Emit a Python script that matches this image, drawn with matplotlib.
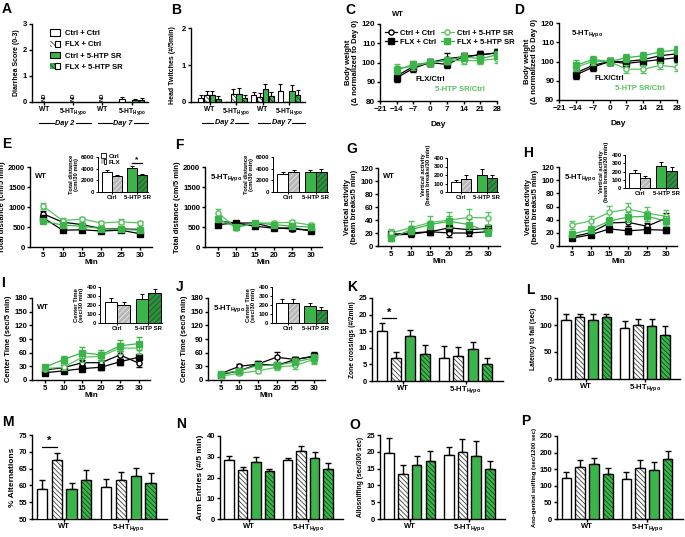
import numpy as np
import matplotlib
matplotlib.use('Agg')
import matplotlib.pyplot as plt
from matplotlib.patches import Patch
from matplotlib.lines import Line2D
from matplotlib.legend_handler import HandlerTuple

plt.rcParams['font.family'] = ['Liberation Sans', 'DejaVu Sans']
plt.rcParams['font.weight'] = 'bold'
plt.rcParams['axes.labelweight'] = 'bold'
plt.rcParams['axes.linewidth'] = 1.0
plt.rcParams['hatch.linewidth'] = 0.6

HYPO = '5-HT$_{\\mathregular{Hypo}}$'
GREEN = '#3bb54a'
LGREEN = '#55c45c'
DGREEN = '#2e8f3e'

# ---- data ----
treatments = ['Ctrl + Ctrl', 'FLX + Ctrl', 'Ctrl + 5-HTP SR', 'FLX + 5-HTP SR']
genotypes = ['WT', HYPO]
days = [-14, -7, 0, 7, 14, 21, 28]
minutes = [5, 10, 15, 20, 25, 30]

# A: diarrhea, only 5-HT Hypo day 7 measurable
diarrhea_hypo_d7 = [0.1, 0.0, 0.07, 0.08]
diarrhea_hypo_d7_err = [0.1, 0.0, 0.05, 0.07]

# B: head twitches, groups WT d2, Hypo d2, WT d7, Hypo d7
twitch = [[0.1, 0.2, 0.18, 0.08], [0.0, 0.22, 0.22, 0.1],
          [0.18, 0.13, 0.35, 0.17], [0.3, 0.0, 0.3, 0.2]]
twitch_err = [[0.08, 0.1, 0.12, 0.08], [0.0, 0.13, 0.17, 0.1],
              [0.1, 0.12, 0.15, 0.1], [0.2, 0.0, 0.17, 0.12]]

# C, D: body weight
weight_wt = [[93, 98, 100, 102, 103, 104, 105], [92, 97, 100, 99, 103, 104, 105],
             [97, 98, 100, 101, 101, 101, 102], [96, 99, 100, 101, 103, 102, 104]]
weight_wt_err = [[2, 2, 2, 3, 2, 2, 2], [2, 2, 2, 2, 2, 2, 2],
                 [2, 2, 2, 2, 2, 2, 2], [2, 2, 2, 2, 2, 2, 2]]
weight_hypo = [[94, 98, 100, 100, 101, 103, 104], [93, 97, 100, 99, 100, 101, 102],
               [97, 100, 100, 96, 96, 98, 97], [98, 101, 100, 102, 103, 105, 106]]
weight_hypo_err = [[2, 2, 2, 2, 2, 2, 2], [2, 2, 2, 2, 2, 2, 2],
                   [2, 2, 2, 2, 2, 2, 2], [3, 2, 2, 2, 2, 2, 2]]

# E, F: total distance
dist_wt = [[830, 620, 560, 460, 450, 440], [730, 420, 430, 400, 420, 330],
           [1020, 660, 700, 600, 630, 600], [640, 550, 520, 460, 440, 420]]
dist_wt_err = [[60, 50, 50, 40, 40, 40], [50, 50, 40, 40, 40, 40],
               [80, 60, 60, 50, 60, 60], [50, 50, 50, 40, 40, 40]]
dist_wt_total = [3400, 2700, 4100, 2900]
dist_wt_total_err = [300, 250, 400, 200]
dist_hypo = [[650, 600, 600, 480, 450, 420], [560, 600, 520, 470, 480, 400],
             [860, 480, 600, 600, 620, 550], [700, 500, 600, 560, 520, 500]]
dist_hypo_err = [[60, 60, 60, 50, 50, 40], [50, 60, 50, 40, 50, 40],
                 [80, 60, 60, 60, 60, 60], [60, 60, 60, 50, 50, 50]]
dist_hypo_total = [3100, 3400, 3500, 3500]
dist_hypo_total_err = [300, 400, 250, 400]

# G, H: vertical activity
vert_wt = [[17, 18, 22, 20, 20, 22], [18, 20, 22, 28, 25, 27],
           [20, 28, 36, 40, 44, 43], [12, 25, 33, 38, 33, 22]]
vert_wt_err = [[5, 4, 5, 6, 5, 5], [5, 4, 4, 5, 5, 5],
               [6, 10, 10, 12, 13, 10], [5, 6, 6, 8, 8, 7]]
vert_wt_total = [120, 150, 200, 160]
vert_wt_total_err = [25, 50, 70, 40]
vert_hypo = [[14, 20, 35, 36, 30, 42], [12, 17, 26, 23, 25, 24],
             [32, 38, 51, 56, 50, 45], [18, 25, 38, 44, 45, 38]]
vert_hypo_err = [[3, 4, 6, 6, 5, 8], [3, 3, 4, 5, 4, 4],
                 [6, 8, 10, 10, 9, 9], [5, 5, 6, 7, 7, 7]]
vert_hypo_total = [180, 120, 270, 205]
vert_hypo_total_err = [40, 25, 50, 45]

# I, J: center time
center_wt = [[22, 27, 38, 38, 55, 37], [16, 20, 25, 28, 40, 50],
             [25, 28, 50, 52, 70, 70], [28, 45, 60, 55, 75, 80]]
center_wt_err = [[5, 5, 6, 6, 8, 8], [3, 4, 6, 6, 6, 7],
                 [5, 6, 10, 10, 12, 12], [5, 8, 12, 10, 12, 15]]
center_wt_total = [230, 195, 270, 330]
center_wt_total_err = [50, 40, 50, 50]
center_hypo = [[14, 30, 35, 50, 45, 52], [12, 20, 35, 32, 45, 52],
               [8, 15, 20, 28, 32, 45], [14, 20, 32, 32, 40, 48]]
center_hypo_err = [[4, 5, 6, 12, 6, 10], [3, 4, 5, 6, 6, 8],
                   [3, 4, 5, 6, 8, 10], [4, 5, 6, 6, 8, 10]]
center_hypo_total = [220, 220, 190, 145]
center_hypo_total_err = [45, 45, 30, 35]

# K-P: grouped bars, rows = genotypes
zone = [[15, 7, 13.5, 8.2], [7, 7.5, 9.7, 5]]
zone_err = [[2.5, 1.8, 2, 2.5], [3.5, 2.7, 2.1, 2]]
latency = [[110, 114, 110, 114], [94, 100, 99, 82]]
latency_err = [[10, 6, 10, 6], [14, 11, 12, 16]]
alternation = [[59, 67.5, 59, 61.5], [59.5, 61.5, 62.8, 60.6]]
alternation_err = [[2.5, 2, 1.8, 3], [2.3, 2.5, 2.5, 3]]
arm_entries = [[28.5, 23.5, 27.3, 23], [28.3, 33, 29.5, 24.3]]
arm_entries_err = [[2, 1.8, 2.5, 1], [1, 2.3, 2.8, 2.5]]
allosniff = [[19.7, 13.3, 16, 17.2], [19, 20, 18.8, 14.8]]
allosniff_err = [[4.5, 2.8, 2.7, 3], [2.5, 3.7, 4.5, 2.5]]
anogenital = [[123, 157, 167, 135], [121, 155, 149, 182]]
anogenital_err = [[20, 22, 17, 18], [22, 24, 22, 23]]

# ---- styles ----
bar_fill = ['white', 'white', GREEN, GREEN]
bar_hatch = [None, '\\' * 7, None, '\\' * 7]
bar_hcol = [None, '#444444', None, '#0d4a1c']
inset_fill = ['white', '#b8b8b8', GREEN, DGREEN]
inset_hatch = [None, '/' * 6, None, '/' * 6]
inset_hcol = [None, '#e6e6e6', None, '#1a5e28']
line_color = ['k', 'k', LGREEN, GREEN]
line_marker = ['o', 's', 'o', 's']
line_mfc = ['white', 'k', 'white', GREEN]

W, H = 685, 537
fig = plt.figure(figsize=(W / 100, H / 100), dpi=100)


def box(l, t, r, b):
    return fig.add_axes([l / W, 1 - b / H, (r - l) / W, (b - t) / H])


def style(ax, fs=5.5):
    ax.spines['top'].set_visible(False)
    ax.spines['right'].set_visible(False)
    ax.tick_params(direction='out', length=2.2, width=1, labelsize=fs, pad=1.2)


def letter(x, y, s):
    fig.text(x / W, 1 - y / H, s, fontsize=10, fontweight='bold', va='top', ha='left')


def draw_bars(ax, xs, ys, err, width, fill, hatch, hcol, lw=0.9, cap=1.5):
    xs = np.asarray(xs, float)
    ys = np.asarray(ys, float)
    if hatch:
        ax.bar(xs, ys, width, color=fill, edgecolor=hcol, hatch=hatch, linewidth=0, zorder=2)
        ax.bar(xs, ys, width, fill=False, edgecolor='k', linewidth=lw, zorder=3)
    else:
        ax.bar(xs, ys, width, color=fill, edgecolor='k', linewidth=lw, zorder=3)
    ax.errorbar(xs, ys, yerr=[np.zeros_like(ys), err], fmt='none', ecolor='k',
                elinewidth=lw, capsize=cap, capthick=lw, zorder=1)


def group_bars(ax, means, errs, ylabel, ylim, yticks, lab_fs=4.8):
    means = np.asarray(means, float)
    errs = np.asarray(errs, float)
    offs = (np.arange(4) - 1.5) * 0.23
    centers = np.arange(len(means))
    for i in range(4):
        draw_bars(ax, centers + offs[i], means[:, i], errs[:, i], 0.16,
                  bar_fill[i], bar_hatch[i], bar_hcol[i], lw=1.0, cap=2)
    ax.set_xlim(-0.5, 1.6)
    ax.set_ylim(*ylim)
    ax.set_yticks(yticks)
    ax.set_xticks(centers)
    ax.set_xticklabels(genotypes)
    ax.set_ylabel(ylabel, fontsize=lab_fs, labelpad=2)
    style(ax)
    ax.tick_params(axis='x', pad=0.8)
    return centers + offs[0], centers + offs[1]


def star(ax, x0, x1, y, ys, fs=8):
    ax.plot([x0, x1], [y, y], color='k', lw=0.9, clip_on=False)
    ax.text((x0 + x1) / 2, ys, '*', ha='center', va='center', fontsize=fs)


def line_panel(ax, x, means, errs):
    for i in range(4):
        ax.errorbar(x, means[i], yerr=errs[i], color=line_color[i], marker=line_marker[i],
                    mfc=line_mfc[i], mec=line_color[i], ms=3.7, mew=1.0, lw=0.9,
                    elinewidth=0.8, capsize=2, capthick=0.8, zorder=3 + i)


def inset_bars(ax, means, errs, ylim, yticks, ylabel):
    for i in range(4):
        x = [-0.2, 0.2, 0.8, 1.2][i]
        draw_bars(ax, [x], [means[i]], [errs[i]], 0.4, inset_fill[i], inset_hatch[i],
                  inset_hcol[i], lw=0.7, cap=1.5)
    ax.set_xlim(-0.56, 1.44)
    ax.set_ylim(*ylim)
    ax.set_yticks(yticks)
    ax.set_xticks([0, 1])
    ax.set_xticklabels(['Ctrl', '5-HTP SR'])
    ax.set_ylabel(ylabel, fontsize=4.2, labelpad=1.5, linespacing=1.0)
    style(ax, fs=4.3)
    ax.tick_params(length=1.5, width=0.7, pad=1)
    for s in ['left', 'bottom']:
        ax.spines[s].set_linewidth(0.7)


def min_axis(ax, ylim, yticks, ylabel, tag, tag_xy):
    ax.set_xlim(1.6, 33)
    ax.set_xticks(minutes)
    ax.set_ylim(*ylim)
    ax.set_yticks(yticks)
    ax.set_xlabel('Min', fontsize=5.8, labelpad=0)
    ax.set_ylabel(ylabel, fontsize=5.5, labelpad=1.5, linespacing=1.0)
    ax.text(tag_xy[0], tag_xy[1], tag, transform=ax.transAxes, fontsize=5.5, va='top')
    style(ax, fs=5.6)


def day_labels(ax, spans, y):
    trans = ax.get_xaxis_transform()
    for (x0, x1), lab in zip(spans, ['Day 2', 'Day 7']):
        ax.plot([x0, x1], [y, y], transform=trans, color='k', lw=0.8, clip_on=False, zorder=0)
        ax.text((x0 + x1) / 2, y, lab, transform=trans, ha='center', va='center',
                fontsize=5.2, style='italic', zorder=5,
                bbox=dict(fc='white', ec='none', pad=0.6))


# ---- A ----
ax = box(32, 24, 148, 102)
offs4 = (np.arange(4) - 1.5) * 0.22
for i in range(4):
    draw_bars(ax, [3 + offs4[i]], [diarrhea_hypo_d7[i]], [diarrhea_hypo_d7_err[i]], 0.2,
              bar_fill[i], bar_hatch[i], bar_hcol[i], lw=0.8, cap=1.5)
for g in [0, 1, 2]:
    ax.text(g, 0.05, 'ND', rotation=90, ha='center', va='bottom', fontsize=4.2)
ax.set_xlim(-0.4, 3.55)
ax.set_ylim(0, 3)
ax.set_yticks([0, 1, 2, 3])
ax.set_xticks([0, 1, 2, 3])
ax.set_xticklabels(['WT', HYPO, 'WT', HYPO])
ax.set_ylabel('Diarrhea Score (0-3)', fontsize=5, labelpad=2)
style(ax)
ax.tick_params(axis='x', labelsize=4.8, pad=0.8)
day_labels(ax, [(-0.15, 1.6), (1.85, 3.55)], -0.27)
handles = []
for i in range(4):
    if bar_hatch[i]:
        h = (Patch(fc=bar_fill[i], ec=bar_hcol[i], hatch=bar_hatch[i], lw=0),
             Patch(fill=False, ec='k', lw=0.8))
    else:
        h = Patch(fc=bar_fill[i], ec='k', lw=0.8)
    handles.append(h)
ax.legend(handles, treatments, loc='upper left', bbox_to_anchor=(0.1, 1.02), frameon=False,
          fontsize=5.5, handlelength=1.3, handleheight=0.9, handletextpad=0.6,
          labelspacing=0.45, handler_map={tuple: HandlerTuple(ndivide=None, pad=0)})
letter(2, 2, 'A')

# ---- B ----
ax = box(191, 28, 305, 102)
tw = np.asarray(twitch)
twe = np.asarray(twitch_err)
for i in range(4):
    draw_bars(ax, np.arange(4) + offs4[i], tw[:, i], twe[:, i], 0.2,
              bar_fill[i], bar_hatch[i], bar_hcol[i], lw=0.8, cap=1.5)
ax.set_xlim(-0.7, 3.6)
ax.set_ylim(0, 2)
ax.set_yticks([0, 1, 2])
ax.set_xticks([0, 1, 2, 3])
ax.set_xticklabels(['WT', HYPO, 'WT', HYPO])
ax.set_ylabel('Head Twitches (#/5min)', fontsize=5, labelpad=4)
style(ax)
ax.tick_params(axis='x', labelsize=4.8, pad=0.8)
day_labels(ax, [(-0.29, 1.45), (1.83, 3.6)], -0.28)
letter(171, 3, 'B')

# ---- C, D ----
for box_px, data, err, tag, tag_xy, lett in [
        ((380, 24, 497, 101), weight_wt, weight_wt_err, 'WT', (0.1, 1.17), (345, 3, 'C')),
        ((559, 23, 677, 100), weight_hypo, weight_hypo_err, HYPO, (0.1, 0.92), (514, 3, 'D'))]:
    ax = box(*box_px)
    line_panel(ax, days, data, err)
    ax.set_xlim(-21, 28)
    ax.set_xticks(np.arange(-21, 29, 7))
    ax.set_ylim(80, 120)
    ax.set_yticks([80, 90, 100, 110, 120])
    ax.set_xlabel('Day', fontsize=6, labelpad=6)
    ax.set_ylabel('Body weight\n(\u0394 normalized to Day 0)', fontsize=5.5, linespacing=1.0, labelpad=2)
    ax.text(tag_xy[0], tag_xy[1], tag, transform=ax.transAxes, fontsize=5.5, va='top')
    ax.annotate('', xy=(28.5, 88.5), xytext=(-14, 88.5),
                arrowprops=dict(arrowstyle='-|>', color='k', lw=1.3, mutation_scale=7))
    ax.text(0, 89.5, 'FLX/Ctrl', ha='center', va='bottom', fontsize=5.5)
    ax.annotate('', xy=(28.5, 83), xytext=(0, 83),
                arrowprops=dict(arrowstyle='-|>', color=LGREEN, lw=1.3, mutation_scale=7))
    ax.text(12.5, 84, '5-HTP SR/Ctrl', ha='center', va='bottom', fontsize=5.5, color=LGREEN)
    style(ax, fs=5.8)
    letter(*lett)
    if tag == 'WT':
        lh = [Line2D([], [], color=line_color[i], marker=line_marker[i], mfc=line_mfc[i],
                     mec=line_color[i], ms=3.7, mew=1.0, lw=0.9) for i in range(4)]
        ax.legend(lh, treatments, ncol=2, loc='upper left', bbox_to_anchor=(-0.02, 1.02),
                  frameon=False, fontsize=5.5, handlelength=1.6, handletextpad=0.4,
                  columnspacing=0.7, labelspacing=0.2)

# ---- E-J ----
line_specs = [
    ((30, 167, 152, 247), (98, 157, 148, 192), dist_wt, dist_wt_err, dist_wt_total,
     dist_wt_total_err, (0, 2000), [0, 500, 1000, 1500, 2000], 'Total distance (cm/5 min)',
     (0, 6000), [0, 2000, 4000, 6000], 'Total distance\n(cm/30 min)', 'WT', (2, 137, 'E')),
    ((205, 167, 322, 247), (273, 157, 328, 192), dist_hypo, dist_hypo_err, dist_hypo_total,
     dist_hypo_total_err, (0, 2000), [0, 500, 1000, 1500, 2000], 'Total distance (cm/5 min)',
     (0, 6000), [0, 2000, 4000, 6000], 'Total distance\n(cm/30 min)', HYPO, (175, 138, 'F')),
    ((378, 168, 500, 246), (447, 158, 498, 192), vert_wt, vert_wt_err, vert_wt_total,
     vert_wt_total_err, (0, 120), [0, 20, 40, 60, 80, 100, 120],
     'Vertical activity\n(beam breaks/5 min)', (0, 400), [0, 100, 200, 300, 400],
     'Vertical activity\n(beam breaks/30 min)', 'WT', (346, 142, 'G')),
    ((559, 167, 677, 246), (625, 155, 678, 188), vert_hypo, vert_hypo_err, vert_hypo_total,
     vert_hypo_total_err, (0, 120), [0, 20, 40, 60, 80, 100, 120],
     'Vertical activity\n(beam breaks/5 min)', (0, 400), [0, 100, 200, 300, 400],
     'Vertical activity\n(beam breaks/30 min)', HYPO, (523, 146, 'H')),
    ((32, 298, 150, 380), (100, 287, 162, 323), center_wt, center_wt_err, center_wt_total,
     center_wt_total_err, (0, 180), [0, 30, 60, 90, 120, 150, 180], 'Center Time (sec/5 min)',
     (0, 400), [0, 100, 200, 300, 400], 'Center Time\n(sec/30 min)', 'WT', (1, 276, 'I')),
    ((208, 298, 325, 380), (272, 287, 328, 323), center_hypo, center_hypo_err,
     center_hypo_total, center_hypo_total_err, (0, 180), [0, 30, 60, 90, 120, 150, 180],
     'Center Time (sec/5 min)', (0, 400), [0, 100, 200, 300, 400],
     'Center Time\n(sec/30 min)', HYPO, (176, 280, 'J')),
]
for (mb, ib, m, me, t, te, yl, yt, ylab, iyl, iyt, iylab, tag, lett) in line_specs:
    ax = box(*mb)
    line_panel(ax, minutes, m, me)
    min_axis(ax, yl, yt, ylab, tag, (0.04, 0.93))
    ia = box(*ib)
    inset_bars(ia, t, te, iyl, iyt, iylab)
    if lett[2] == 'E':
        star(ia, 0.8, 1.2, 4900, 5500, fs=6)
        ih = [Patch(fc='white', ec='k', lw=0.6),
              (Patch(fc=inset_fill[1], ec=inset_hcol[1], hatch=inset_hatch[1], lw=0),
               Patch(fill=False, ec='k', lw=0.6))]
        ia.legend(ih, ['Ctrl', 'FLX'], loc='upper left', bbox_to_anchor=(0.02, 1.18),
                  frameon=False, fontsize=4.5, handlelength=0.8, handleheight=0.7,
                  handletextpad=0.3, labelspacing=0.1, borderaxespad=0,
                  handler_map={tuple: HandlerTuple(ndivide=None, pad=0)})
    letter(*lett)

# ---- K-P ----
ax = box(372, 298, 503, 381)
x0, x1 = group_bars(ax, zone, zone_err, 'Zone crossings (#/2min)', (0, 25), [0, 5, 10, 15, 20, 25])
star(ax, x0[0], x1[0], 19, 20.6)
letter(347, 280, 'K')

ax = box(557, 298, 680, 379)
group_bars(ax, latency, latency_err, 'Latency to fall (sec)', (0, 150), [0, 50, 100, 150])
letter(526, 283, 'L')

ax = box(32, 435, 167, 519)
x0, x1 = group_bars(ax, alternation, alternation_err, '% Alternations', (50, 75),
                    [50, 55, 60, 65, 70, 75], lab_fs=6)
star(ax, x0[0], x1[0], 71.5, 73.2)
letter(2, 415, 'M')

ax = box(220, 436, 343, 519)
group_bars(ax, arm_entries, arm_entries_err, 'Arm Entries (#/5 min)', (0, 40),
           [0, 10, 20, 30, 40], lab_fs=6)
letter(176, 417, 'N')

ax = box(380, 435, 505, 519)
group_bars(ax, allosniff, allosniff_err, 'Allosniffing (sec/300 sec)', (0, 25),
           [0, 5, 10, 15, 20, 25])
letter(349, 418, 'O')

ax = box(557, 436, 683, 519)
group_bars(ax, anogenital, anogenital_err, 'Ano-genital sniffing (sec/1200 sec)', (0, 250),
           [0, 50, 100, 150, 200, 250], lab_fs=4.3)
letter(521, 414, 'P')

fig.savefig('out.png', dpi=100)
